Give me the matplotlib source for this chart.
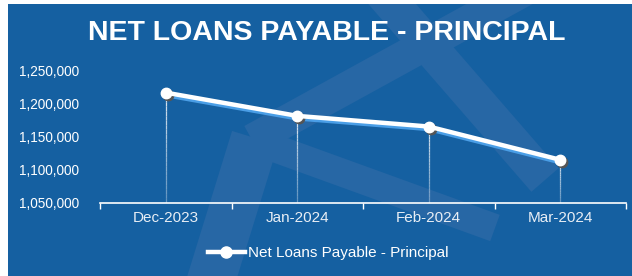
import numpy as np
import matplotlib
matplotlib.use('Agg')
import matplotlib.pyplot as plt
import matplotlib.transforms as mtransforms
from matplotlib.patches import Rectangle, Polygon
from matplotlib.collections import LineCollection
from matplotlib.lines import Line2D

plt.rcParams['font.family'] = ['Liberation Sans', 'DejaVu Sans']

# data
months = ['Dec-2023', 'Jan-2024', 'Feb-2024', 'Mar-2024']
principal = [1216000, 1181000, 1165000, 1115000]
y_ticks = [1050000, 1100000, 1150000, 1200000, 1250000]
series_name = 'Net Loans Payable - Principal'
title = 'NET LOANS PAYABLE - PRINCIPAL'

bg_blue = '#1560a1'
wm_blue = '#2767a5'
W, H = 632, 276

fig = plt.figure(figsize=(W / 100, H / 100), dpi=100)
fig.patch.set_facecolor('white')

# blue panel
panel = Rectangle((8 / W, 0), 1 - 8 / W, 1 - 4 / H, transform=fig.transFigure,
                  facecolor=bg_blue, edgecolor='none', zorder=-2)
fig.add_artist(panel)


# faint watermark bands (pixel coords, y down)
def band(p0, p1, w):
    p0 = np.array(p0, float)
    p1 = np.array(p1, float)
    d = p1 - p0
    n = np.array([-d[1], d[0]]) / np.hypot(*d) * w / 2
    pts = [p0 + n, p1 + n, p1 - n, p0 - n]
    return [(x / W, 1 - y / H) for x, y in pts]


wm = [band((380, -10), (545, 180), 36),
      band((525, -10), (252, 140), 32),
      band((252, 140), (495, 228), 28),
      band((255, 138), (205, 300), 48)]
for poly in wm:
    p = Polygon(poly, closed=True, transform=fig.transFigure, facecolor=wm_blue,
                edgecolor='none', zorder=-1)
    p.set_clip_path(Rectangle((8 / W, 0), 1 - 8 / W, 1 - 4 / H, transform=fig.transFigure))
    fig.add_artist(p)

ax = fig.add_axes([100 / W, 1 - 203 / H, 526 / W, 133 / H])
ax.set_facecolor('none')
x = np.arange(len(months))

# drop lines fading downward
segs, cols = [], []
for xi, v in zip(x, principal):
    ys = np.linspace(v, y_ticks[0], 25)
    for k in range(len(ys) - 1):
        segs.append([(xi, ys[k]), (xi, ys[k + 1])])
        a = 0.85 - 0.55 * k / (len(ys) - 1)
        cols.append((1, 1, 1, a))
ax.add_collection(LineCollection(segs, colors=cols, linewidths=0.9, zorder=2))

# line shadow
shadow = ax.transData + mtransforms.ScaledTranslation(0, -2.5 / 100, fig.dpi_scale_trans)
ax.plot(x, principal, color='#4a9ee6', lw=3.2, transform=shadow, zorder=3,
        solid_capstyle='round')
mshadow = ax.transData + mtransforms.ScaledTranslation(2 / 100, -2 / 100, fig.dpi_scale_trans)
ax.plot(x, principal, 'o', color='#555555', ms=7.5, transform=mshadow, zorder=4, clip_on=False)
ax.plot(x, principal, color='white', lw=3.2, marker='o', ms=7.5, zorder=5, clip_on=False,
        solid_capstyle='round')

ax.set_xlim(-0.5, len(months) - 0.5)
ax.set_ylim(y_ticks[0], y_ticks[-1])
ax.set_yticks(y_ticks)
ax.set_yticklabels([f'{v:,}' for v in y_ticks], color='white', fontsize=9.8)
ax.tick_params(axis='y', length=0, pad=15)
ax.set_xticks(np.arange(-0.5, len(months), 1.0))
ax.set_xticklabels([])
ax.set_xticks(x, minor=True)
ax.set_xticklabels(months, minor=True, color='#e8eef5', fontsize=11)
ax.tick_params(axis='x', which='major', length=4, width=1, colors='white', direction='out')
ax.tick_params(axis='x', which='minor', length=0, pad=6)
for s in ['top', 'right', 'left']:
    ax.spines[s].set_visible(False)
ax.spines['bottom'].set_color('white')
ax.spines['bottom'].set_linewidth(1.2)

fig.text(327 / W, 1 - 33 / H, title, ha='center', va='center', color='white',
         fontsize=20.5, fontweight='bold')

handle = Line2D([], [], color='white', lw=3.2, marker='o', ms=8)
leg = fig.legend([handle], [series_name], loc='center', bbox_to_anchor=(328 / W, 1 - 253 / H),
                 frameon=False, fontsize=11, handlelength=2.4, handletextpad=0.2)
for t in leg.get_texts():
    t.set_color('white')

fig.savefig('out.png', dpi=100)
